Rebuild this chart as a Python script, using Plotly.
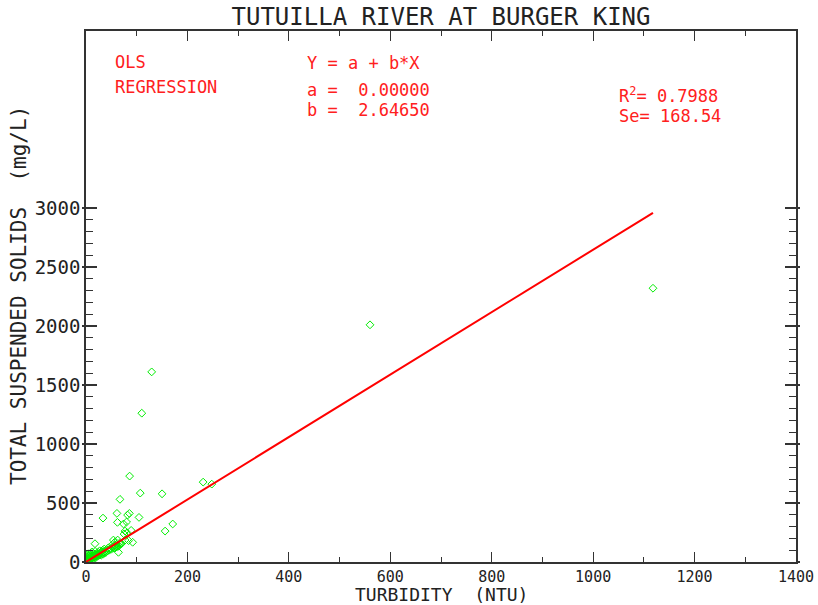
import plotly.graph_objects as go

# ---------------- data ----------------
title_text = "TUTUILLA RIVER AT BURGER KING"
x_title = "TURBIDITY\u00a0\u00a0(NTU)"
y_title = "TOTAL SUSPENDED SOLIDS\u00a0\u00a0(mg/L)"

turbidity = [
    1118, 560, 129.5, 110, 86, 231, 248, 107, 150, 67,
    33.5, 61, 85.5, 82, 104.5, 62, 80, 74, 171, 156,
    77, 81, 89, 75, 84, 92, 77, 54, 56.5, 52,
    65, 17.7, 64, 62.5, 67, 62.5, 57,
    0.5, 1, 1.5, 2, 2, 2.5, 3, 3, 4, 4, 5, 5, 6, 6, 7, 7, 8, 8, 9, 9,
    10, 10, 11, 12, 12, 13, 14, 15, 15, 16, 17, 18, 18, 19, 20, 21, 22,
    23, 24, 25, 26, 27, 28, 29, 30, 31, 32, 33, 34, 35, 36, 37, 38, 40,
    41, 43, 44, 46, 48, 50, 52, 55, 57, 59, 60, 66, 70,
]
tss = [
    2320, 2010, 1611, 1261, 728, 677, 660, 584, 578, 531,
    372, 412, 412, 398, 378, 336, 339, 322, 322, 262,
    262, 248, 268, 237, 181, 167, 186, 186, 167, 147,
    138, 155, 82, 186, 150, 130, 121,
    3, 12, 30, 6, 45, 18, 62, 9, 25, 38, 15, 70, 30, 48, 12, 22, 40, 58, 20, 75,
    32, 50, 26, 44, 85, 34, 55, 28, 68, 42, 60, 50, 90, 36, 58, 72, 48,
    64, 82, 55, 70, 95, 62, 78, 58, 88, 72, 100, 66, 84, 110, 76, 92, 85,
    105, 95, 120, 100, 115, 108, 125, 118, 140, 128, 150, 160, 155,
]

coef_a = 0.0
coef_b = 2.64650
r2 = 0.7988
se = 168.54

x_ticks = [0, 200, 400, 600, 800, 1000, 1200, 1400]
y_ticks = [0, 500, 1000, 1500, 2000, 2500, 3000]
y_minor = list(range(0, 3001, 100))

# ---------------- figure ----------------
FONT = "DejaVu Sans Mono"
AX = "#333333"
TXT = "#222222"

line_x = [0, max(turbidity)]
line_y = [coef_a + coef_b * v for v in line_x]

fig = go.Figure()
fig.add_trace(go.Scatter(
    x=turbidity, y=tss, mode="markers",
    marker=dict(symbol="diamond-open", size=6, color="#00ee00",
                line=dict(width=1, color="#00ee00")),
    showlegend=False, hoverinfo="skip"))
fig.add_trace(go.Scatter(
    x=line_x, y=line_y, mode="lines",
    line=dict(color="#ff0000", width=2),
    showlegend=False, hoverinfo="skip"))
# helper traces so the overlay axes (outer stubs of crossing major ticks) are drawn
fig.add_trace(go.Scatter(x=[None], y=[None], yaxis="y2", showlegend=False, hoverinfo="skip"))
fig.add_trace(go.Scatter(x=[None], y=[None], yaxis="y3", showlegend=False, hoverinfo="skip"))

L, R, T, B = 86, 22, 31, 43
W, H = 818, 605

fig.update_layout(
    template="none",
    width=W, height=H,
    margin=dict(l=L, r=R, t=T, b=B, autoexpand=False),
    paper_bgcolor="white", plot_bgcolor="white",
    font=dict(family=FONT, color=TXT, size=15),
    xaxis=dict(
        range=[0, 1400], tickvals=x_ticks, ticktext=[str(v) for v in x_ticks],
        ticks="inside", ticklen=10, tickwidth=1.2, tickcolor=AX,
        minor=dict(dtick=100, tick0=0, ticks="inside", ticklen=5, tickcolor=AX, tickwidth=1),
        showline=True, linecolor=AX, linewidth=1.5, mirror="ticks",
        showgrid=False, zeroline=False, automargin=False,
        tickfont=dict(family=FONT, size=15, color=TXT),
    ),
    yaxis=dict(
        range=[0, 4500], tickvals=y_ticks, ticktext=[str(v) for v in y_ticks],
        ticks="inside", ticklen=11, tickwidth=1.5, tickcolor=AX,
        minor=dict(tickvals=y_minor, ticks="inside", ticklen=7, tickcolor=AX, tickwidth=1.2),
        showline=True, linecolor=AX, linewidth=1.5, mirror="ticks",
        showgrid=False, zeroline=False, automargin=False,
        tickfont=dict(family=FONT, size=19, color=TXT),
    ),
    yaxis2=dict(
        overlaying="y", side="left", range=[0, 4500], tickvals=y_ticks,
        showticklabels=False, ticks="outside", ticklen=3, tickwidth=1.5, tickcolor=AX,
        showline=False, showgrid=False, zeroline=False, automargin=False,
    ),
    yaxis3=dict(
        overlaying="y", side="right", range=[0, 4500], tickvals=y_ticks,
        showticklabels=False, ticks="outside", ticklen=3, tickwidth=1.5, tickcolor=AX,
        showline=False, showgrid=False, zeroline=False, automargin=False,
    ),
    title=dict(text=title_text, x=(L + (W - L - R) / 2) / W, xanchor="center",
               y=1 - 17 / H, yanchor="middle",
               font=dict(family=FONT, size=24, color=TXT)),
)

pw, ph = W - L - R, H - T - B


def px(xp):
    return (xp - L) / pw


def py(yp):
    return (H - B - yp) / ph


# axis titles
fig.add_annotation(text=x_title, xref="paper", yref="paper", x=px(441), y=py(594),
                   xanchor="center", yanchor="middle", showarrow=False, borderpad=0,
                   font=dict(family=FONT, size=18, color=TXT))
fig.add_annotation(text=y_title, xref="paper", yref="paper", x=px(19), y=py(296),
                   xanchor="center", yanchor="middle", showarrow=False, textangle=-90,
                   font=dict(family=FONT, size=21, color=TXT))

RED = "#ff2020"
notes = [
    ("OLS", 113, 62),
    ("REGRESSION", 113, 87),
    ("Y = a + b*X", 305, 63),
    ("a =\u00a0\u00a0%.5f" % coef_a, 305, 90),
    ("b =\u00a0\u00a0%.5f" % coef_b, 305, 110),
    ("R<sup>2</sup>= %.4f" % r2, 617, 95),
    ("Se= %.2f" % se, 617, 116),
]
for txt, xp, yp in notes:
    fig.add_annotation(text=txt, xref="paper", yref="paper", x=px(xp), y=py(yp),
                       xanchor="left", yanchor="middle", showarrow=False,
                       font=dict(family=FONT, size=17, color=RED))

fig.write_html("out.html")
